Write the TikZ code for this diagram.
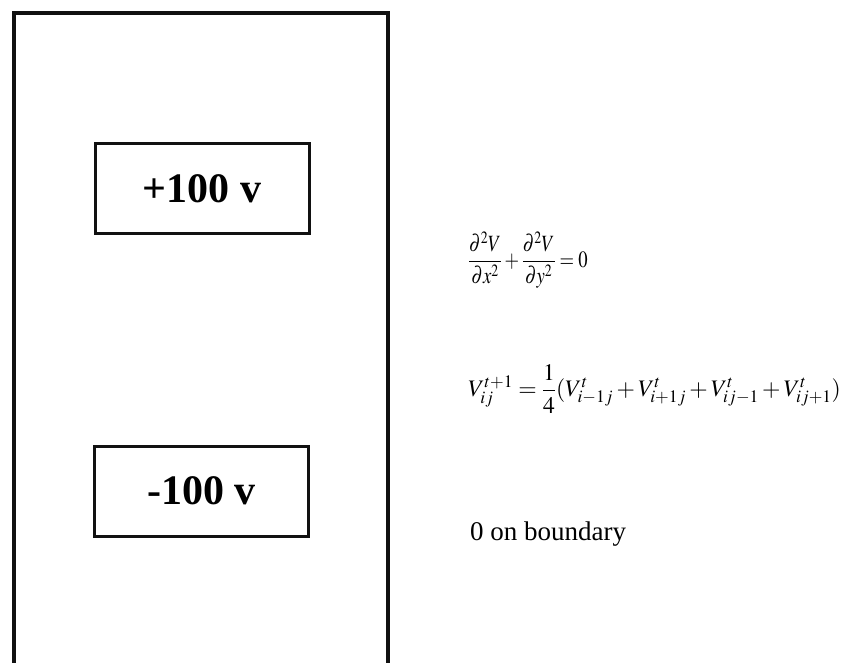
\documentclass[tikz,border=0pt]{standalone}
\usepackage{mathptmx}
\usepackage{fontspec}
\setmainfont{Liberation Serif}
\usetikzlibrary{positioning}
\definecolor{Ink}{HTML}{111111}

\begin{document}
\begin{tikzpicture}[x=1pt,y=-1pt, plate/.style={draw=Ink,line width=3pt,minimum width=214pt,minimum height=90pt,font=\fontsize{42}{46}\selectfont\bfseries}, eq/.style={anchor=west,inner sep=0pt,font=\fontsize{22}{26}\selectfont}]
    \useasboundingbox (0,0) rectangle (849,662);
    \draw[Ink,line width=4pt] (14,664) -- (14,13) -- (388,13) -- (388,664);
    \node[plate] (pos) at (202,188.5) {+100 v}; \node[plate] (neg) at (201.5,491) {-100 v};
    \node[eq] (lap) at (468,260) {\scalebox{0.85}[1.06]{$\displaystyle\frac{\partial^2 V}{\partial x^2}+\frac{\partial^2 V}{\partial y^2}=0$}};
    \node[eq,font=\fontsize{23.7}{28}\selectfont] (iter) at (468,389) {$\displaystyle V^{t+1}_{ij}=\frac{1}{4}(V^t_{i-1j}+V^t_{i+1j}+V^t_{ij-1}+V^t_{ij+1})$};
    \node[eq,anchor=base west,font=\fontsize{27}{30}\selectfont] (bnd) at (470,540) {0 on boundary};
  \end{tikzpicture}
\end{document}
